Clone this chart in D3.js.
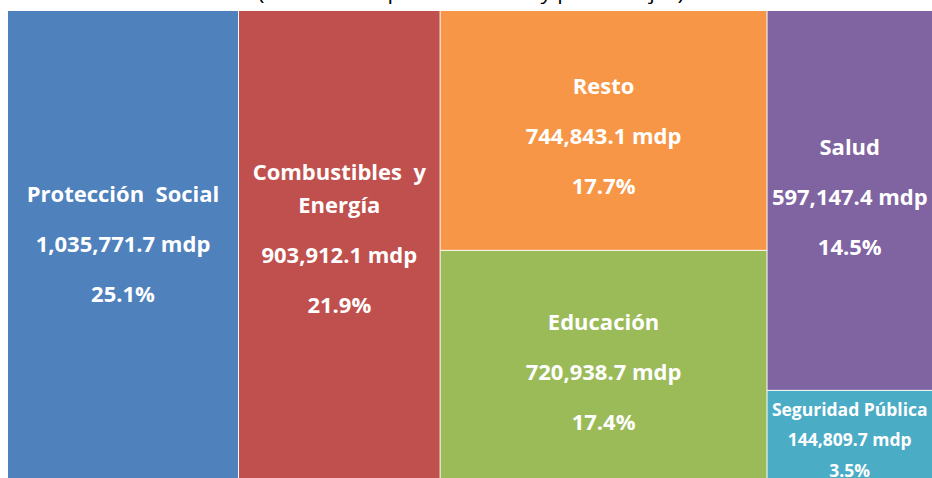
<!DOCTYPE html>
<html><head><meta charset="utf-8">
<script src="https://cdn.jsdelivr.net/npm/d3@7"></script>
<style>html,body{margin:0;padding:0;background:#fff;overflow:hidden}</style>
</head><body>
<svg id="chart" width="932" height="478"></svg>
<script>
const titleText = "(Millones de pesos de 2025 y porcentajes)";
const categories = ["Protección Social", "Combustibles y Energía", "Resto", "Educación", "Salud", "Seguridad Pública"];
const groups = ["g1", "g2", "g3", "g3", "g4", "g4"];
const values = [1035771.7, 903912.1, 744843.1, 720938.7, 597147.4, 144809.7];
const valueLabels = ["1,035,771.7 mdp", "903,912.1 mdp", "744,843.1 mdp", "720,938.7 mdp", "597,147.4 mdp", "144,809.7 mdp"];
const pctLabels = ["25.1%", "21.9%", "17.7%", "17.4%", "14.5%", "3.5%"];
const nameLines = [["Protección  Social"], ["Combustibles  y", "Energía"], ["Resto"], ["Educación"], ["Salud"], ["Seguridad Pública"]];
const colors = ["#4F81BD", "#C0504D", "#F79646", "#9BBB59", "#8064A2", "#4BACC6"];

// label vertical nudges (style only)
const labelOffsets = [-4, -9, 5, 5, -4, 3];

const svg = d3.select("#chart");
const x0 = 8, y0 = 11, W = 924, H = 471;
const FONT = "'Open Sans', Lato, sans-serif";

svg.append("text").attr("x", 471).attr("y", 0).attr("text-anchor", "middle")
  .attr("font-family", FONT).attr("font-size", 18)
  .attr("textLength", 426).attr("lengthAdjust", "spacingAndGlyphs")
  .attr("fill", "#000").text(titleText);

const groupNames = Array.from(new Set(groups));
const rootData = {name: "root", children: groupNames.map(g => {
  const idx = categories.map((c, i) => i).filter(i => groups[i] === g);
  if (idx.length === 1) return {name: categories[idx[0]], i: idx[0], value: values[idx[0]]};
  return {name: g, children: idx.map(i => ({name: categories[i], i, value: values[i]}))};
})};

const root = d3.hierarchy(rootData).sum(d => d.value || 0);
d3.treemap().tile(d3.treemapSliceDice).size([W, H]).paddingInner(1).round(false)(root);

const g = svg.append("g").attr("transform", `translate(${x0},${y0})`);
const leaves = root.leaves();
const cell = g.selectAll("g.cell").data(leaves).join("g").attr("class", "cell");
cell.append("rect")
  .attr("x", d => d.x0).attr("y", d => d.y0)
  .attr("width", d => d.x1 - d.x0).attr("height", d => d.y1 - d.y0)
  .attr("fill", d => colors[d.data.i]);

cell.each(function(d) {
  const i = d.data.i;
  const small = i === 5;
  const fs = small ? 17.5 : 22;
  const lines = nameLines[i].map(t => ({t, gap: 33}))
    .concat([{t: valueLabels[i], gap: small ? 30 : 50}, {t: pctLabels[i], gap: small ? 31 : 50}]);
  let ys = [0];
  for (let k = 1; k < lines.length; k++) ys.push(ys[k - 1] + lines[k].gap);
  const total = ys[ys.length - 1];
  const cx = (d.x0 + d.x1) / 2, cy = (d.y0 + d.y1) / 2;
  const off = labelOffsets[i];
  const t = d3.select(this);
  lines.forEach((l, k) => {
    t.append("text").attr("x", cx).attr("y", cy - total / 2 + ys[k] + off)
      .attr("text-anchor", "middle").attr("dominant-baseline", "central")
      .attr("font-family", FONT).attr("font-weight", "bold")
      .attr("font-size", fs).attr("fill", "#fff")
      .style("white-space", "pre").text(l.t);
  });
});
</script>
</body></html>
